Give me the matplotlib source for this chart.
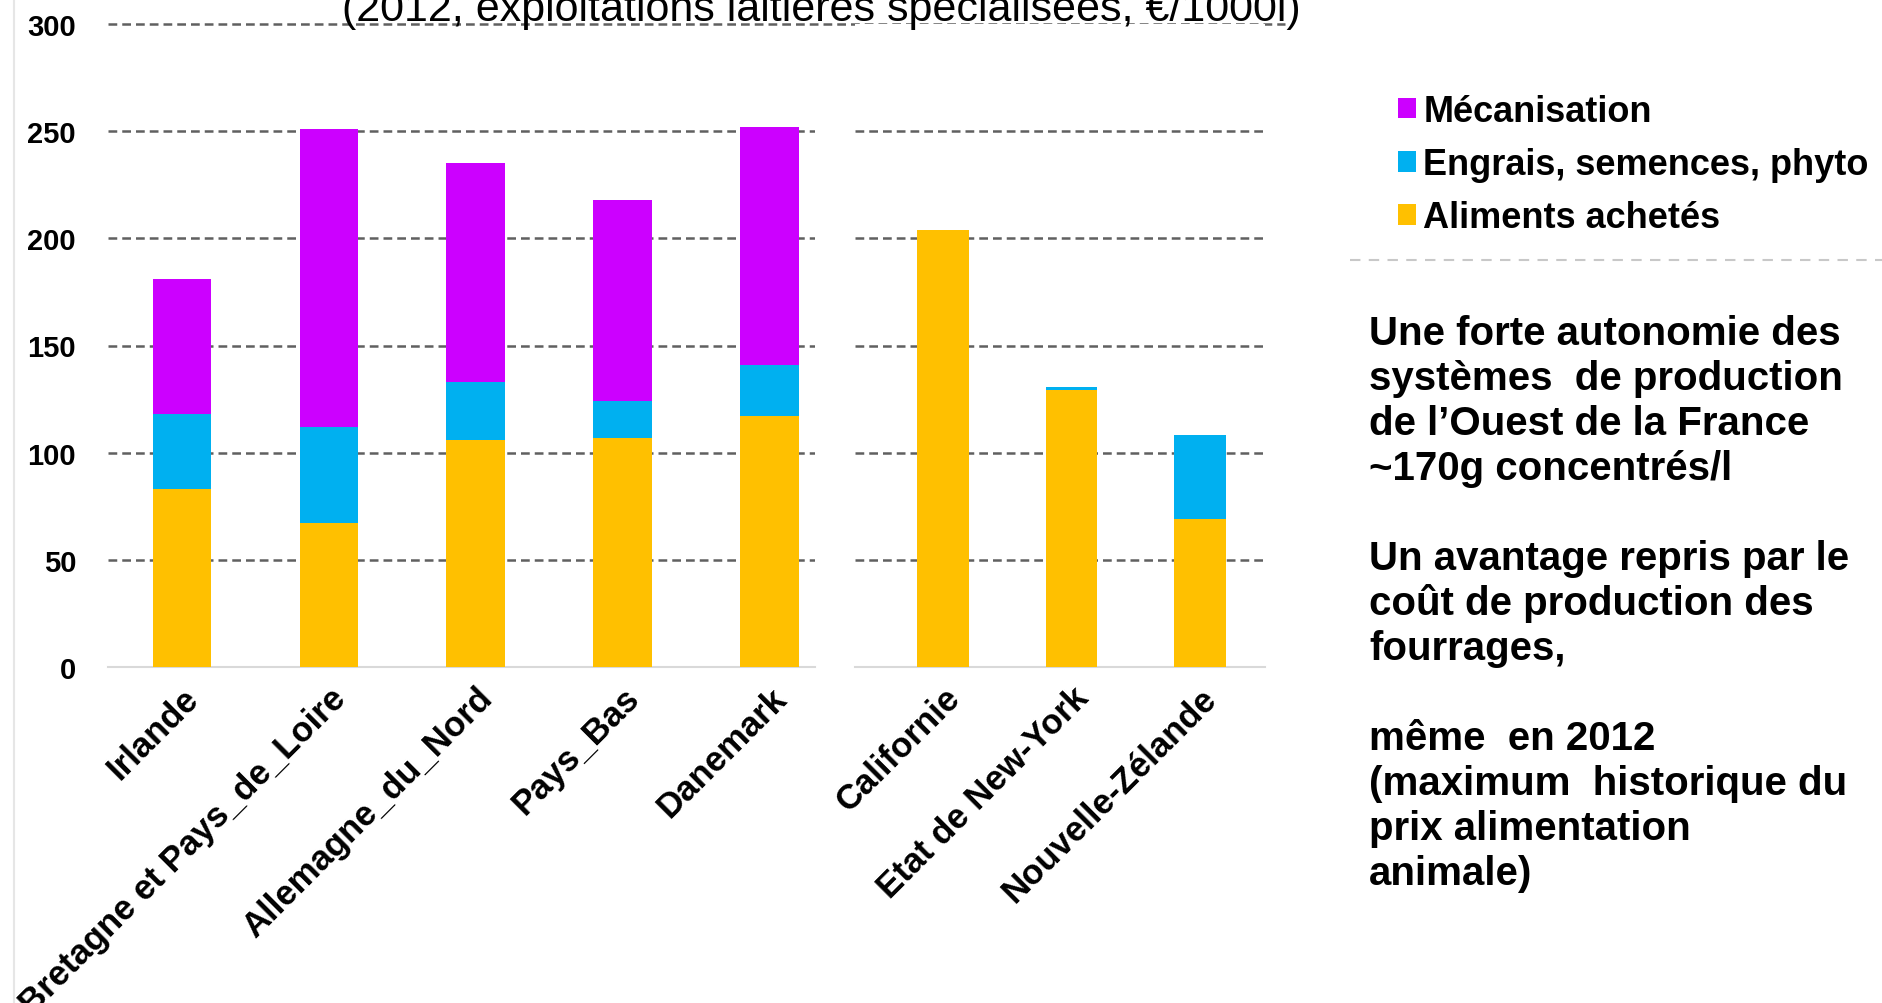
import matplotlib
matplotlib.use('Agg')
import matplotlib.pyplot as plt
from matplotlib.lines import Line2D
import numpy as np

plt.rcParams['font.family'] = ['Liberation Sans', 'DejaVu Sans']

# Charges opérationnelles, €/1000 l, 2012
cats_eu = ['Irlande', 'Bretagne et Pays_de_Loire', 'Allemagne_du_Nord', 'Pays_Bas', 'Danemark']
alim_eu = [83, 67, 106, 107, 117]
engr_eu = [35, 45, 27, 17, 24]
meca_eu = [63, 139, 102, 94, 111]

cats_mo = ['Californie', 'Etat de New-York', 'Nouvelle-Zélande']
alim_mo = [204, 129.4, 69]
engr_mo = [0, 1.4, 39.4]
meca_mo = [0, 0, 0]

series_labels = ['Mécanisation', 'Engrais, semences, phyto', 'Aliments achetés']
yticks = [0, 50, 100, 150, 200, 250, 300]

title = '(2012, exploitations laitières spécialisées, €/1000l)'
comment_lines = [
    'Une forte autonomie des',
    'systèmes  de production',
    'de l’Ouest de la France',
    '~170g concentrés/l',
    '',
    'Un avantage repris par le',
    'coût de production des',
    'fourrages,',
    '',
    'même  en 2012',
    '(maximum  historique du',
    'prix alimentation',
    'animale)',
]

C_ALIM = '#ffc000'
C_ENGR = '#00b0f0'
C_MECA = '#cc00ff'
GRID = '#606060'
GRID_LS = (0, (3.5, 2))

W, H = 1882, 1004
fig = plt.figure(figsize=(W / 100, H / 100), dpi=100)


def fx(px):
    return px / W


def fy(py):
    return 1 - py / H


ax_eu = fig.add_axes([fx(108), fy(668), fx(815) - fx(108), fy(25) - fy(668)])
ax_mo = fig.add_axes([fx(855), fy(668), fx(1265) - fx(855), fy(25) - fy(668)])


def draw_group(ax, cats, alim, engr, meca, xlim):
    x = np.arange(len(cats))
    b1 = ax.bar(x, alim, 0.4, color=C_ALIM, zorder=3)
    b2 = ax.bar(x, engr, 0.4, bottom=alim, color=C_ENGR, zorder=3)
    b3 = ax.bar(x, meca, 0.4, bottom=np.add(alim, engr), color=C_MECA, zorder=3)
    ax.set_xlim(*xlim)
    ax.set_ylim(0, 300)
    for s in ['top', 'right', 'left']:
        ax.spines[s].set_visible(False)
    ax.spines['bottom'].set_color('#d9d9d9')
    ax.spines['bottom'].set_linewidth(1.5)
    for v in yticks[1:-1]:
        ax.axhline(v, color=GRID, lw=1.8, ls=GRID_LS, zorder=1)
    ax.set_xticks(x)
    ax.set_xticklabels(cats, rotation=45, ha='right', rotation_mode='anchor',
                       fontsize=25, fontweight='bold')
    ax.tick_params(axis='x', length=0, pad=10)
    return b1, b2, b3


b_alim, b_engr, b_meca = draw_group(ax_eu, cats_eu, alim_eu, engr_eu, meca_eu, (-0.504, 4.309))
draw_group(ax_mo, cats_mo, alim_mo, engr_mo, meca_mo, (-0.685, 2.506))

ax_eu.set_yticks(yticks)
ax_eu.set_yticklabels([str(v) for v in yticks], fontsize=21, fontweight='bold')
ax_eu.tick_params(axis='y', length=0, pad=23)
ax_mo.set_yticks(yticks)
ax_mo.tick_params(axis='y', left=False, labelleft=False)

# top line runs across both panels
ax_eu.axhline(300, xmin=0, xmax=(1285 - 108) / 707, clip_on=False,
              color=GRID, lw=1.8, ls=GRID_LS, zorder=1)

fig.text(fx(821), fy(21), title, ha='center', va='baseline', fontsize=31)

fig.legend([b_meca, b_engr, b_alim], series_labels, loc='upper left',
           bbox_to_anchor=(fx(1398), fy(95)), frameon=False,
           prop={'size': 26, 'weight': 'bold'}, handlelength=0.5, handleheight=0.5,
           handletextpad=0.2, labelspacing=0.5, borderpad=0, borderaxespad=0)

fig.add_artist(Line2D([fx(1350), 1], [fy(261), fy(261)], color='#c8c8c8', lw=1.5,
                      ls=(0, (5, 4))))
fig.add_artist(Line2D([fx(14), fx(14)], [0, 1], color='#e6e6e6', lw=1.5))

for i, line in enumerate(comment_lines):
    fig.text(fx(1369), fy(345 + i * 45), line, ha='left', va='baseline',
             fontsize=29, fontweight='bold')

fig.savefig('out.png', dpi=100)
